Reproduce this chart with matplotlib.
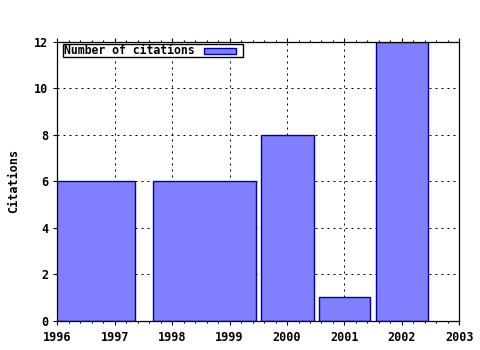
import matplotlib
matplotlib.use("Agg")
import matplotlib.pyplot as plt
from matplotlib.font_manager import FontProperties
from matplotlib.patches import Rectangle
from matplotlib.ticker import AutoMinorLocator, MultipleLocator

# bar data (gnuplot-style boxes: centre year, box width, citation count)
years = [1996.46, 1998.56, 2000.01, 2001.0, 2002.0]
widths = [1.8, 1.8, 0.92, 0.9, 0.9]
citations = [6, 6, 8, 1, 12]
series_label = "Number of citations"

FILL = "#8080ff"
EDGE = "#0000a0"
FONT = dict(family="DejaVu Sans Mono", weight="bold", size=8.5)
W, H = 480, 350


def px(x, y):
    """pixel coords (from top-left) -> figure fraction"""
    return x / W, 1 - y / H


fig = plt.figure(figsize=(W / 100, H / 100), dpi=100)
ax = fig.add_axes([57.3 / W, 1 - 320.7 / H, 402 / W, 279 / H])

ax.bar(years, citations, width=widths, color=FILL, edgecolor=EDGE,
       linewidth=1.0, label=series_label, zorder=2)

ax.set_xlim(1996, 2003)
ax.set_ylim(0, 12)
ax.xaxis.set_major_locator(MultipleLocator(1))
ax.xaxis.set_minor_locator(AutoMinorLocator(5))
ax.yaxis.set_major_locator(MultipleLocator(2))

ax.grid(True, which="major", color="black", linestyle=(0, (2, 4)), linewidth=0.72)
ax.set_axisbelow(True)

for s in ax.spines.values():
    s.set_linewidth(0.9)
    s.set_color("black")

ax.tick_params(which="both", direction="out", top=True, right=False, colors="black", width=0.8)
ax.tick_params(which="major", length=2.6)
ax.tick_params(which="minor", length=1.5)
ax.tick_params(axis="x", pad=4.5)
ax.tick_params(axis="y", pad=4.0)
for lbl in ax.get_xticklabels() + ax.get_yticklabels():
    lbl.set_fontproperties(FontProperties(**FONT))

fig.text(*px(14, 181), "Citations", rotation=90, ha="center", va="center", **FONT)

# gnuplot-like key: label on the left, sample box on the right
x0, y0 = px(63, 57)
x1, y1 = px(243, 44)
fig.patches.append(Rectangle((x0, y0), x1 - x0, y1 - y0, transform=fig.transFigure,
                             facecolor="white", edgecolor="black", linewidth=1.0, zorder=5))
fig.text(*px(64.5, 54.3), series_label, ha="left", va="baseline", zorder=6,
         **{**FONT, "size": 8.3})
sx0, sy0 = px(204, 54)
sx1, sy1 = px(236, 47.5)
fig.patches.append(Rectangle((sx0, sy0), sx1 - sx0, sy1 - sy0, transform=fig.transFigure,
                             facecolor=FILL, edgecolor=EDGE, linewidth=1.0, zorder=6))

fig.savefig("out.png", dpi=100)
